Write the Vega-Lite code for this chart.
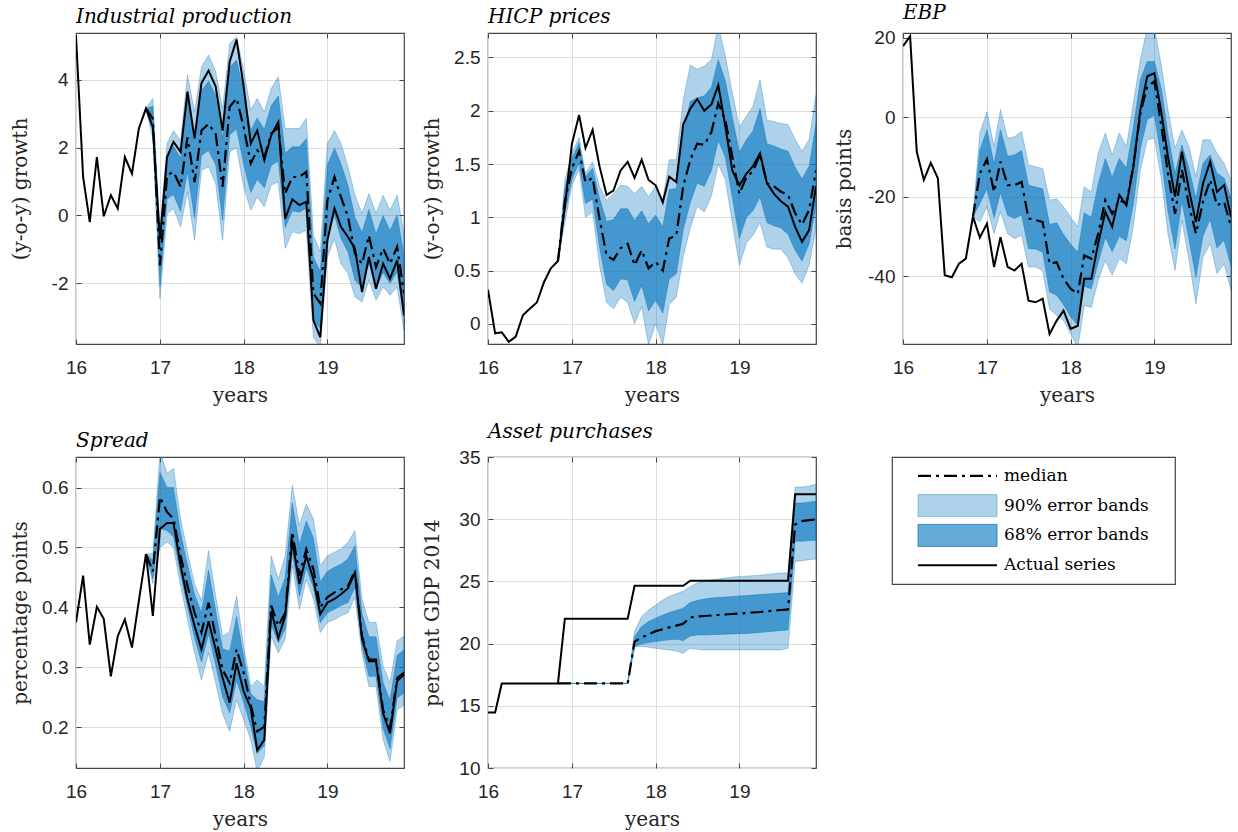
{
  "$schema": "https://vega.github.io/schema/vega-lite/v6.json",
  "background": "white",
  "padding": {"left": 9, "top": 2, "right": 5, "bottom": 5},
  "spacing": 15,
  "datasets": {
    "ip": [
      {"date": "2016-01", "actual": 5.3},
      {"date": "2016-02", "actual": 1.13},
      {"date": "2016-03", "actual": -0.2},
      {"date": "2016-04", "actual": 1.72},
      {"date": "2016-05", "actual": -0.03},
      {"date": "2016-06", "actual": 0.59},
      {"date": "2016-07", "actual": 0.2},
      {"date": "2016-08", "actual": 1.72},
      {"date": "2016-09", "actual": 1.23},
      {"date": "2016-10", "actual": 2.56},
      {"date": "2016-11", "actual": 3.15, "median": 3.15, "hi90": 3.15, "lo90": 3.15, "hi68": 3.15, "lo68": 3.15},
      {"date": "2016-12", "actual": 2.6, "median": 2.85, "hi90": 3.45, "lo90": 2.25, "hi68": 3.22, "lo68": 2.48},
      {"date": "2017-01", "actual": -0.7, "median": -1.48, "hi90": -0.54, "lo90": -2.46, "hi68": -0.9, "lo68": -2.09},
      {"date": "2017-02", "actual": 1.72, "median": 1.18, "hi90": 2.12, "lo90": 0.05, "hi68": 1.76, "lo68": 0.48},
      {"date": "2017-03", "actual": 2.17, "median": 1.28, "hi90": 2.5, "lo90": 0.2, "hi68": 2.04, "lo68": 0.61},
      {"date": "2017-04", "actual": 1.87, "median": 0.84, "hi90": 2.2, "lo90": -0.34, "hi68": 1.68, "lo68": 0.11},
      {"date": "2017-05", "actual": 3.65, "median": 2.3, "hi90": 4.14, "lo90": 0.69, "hi68": 3.44, "lo68": 1.3},
      {"date": "2017-06", "actual": 2.27, "median": 0.98, "hi90": 3.05, "lo90": -0.74, "hi68": 2.26, "lo68": -0.09},
      {"date": "2017-07", "actual": 3.9, "median": 2.5, "hi90": 4.38, "lo90": 1.33, "hi68": 3.67, "lo68": 1.77},
      {"date": "2017-08", "actual": 4.27, "median": 2.7, "hi90": 4.73, "lo90": 1.43, "hi68": 3.96, "lo68": 1.91},
      {"date": "2017-09", "actual": 3.8, "median": 2.4, "hi90": 4.24, "lo90": 0.94, "hi68": 3.54, "lo68": 1.49},
      {"date": "2017-10", "actual": 2.5, "median": 0.84, "hi90": 3.15, "lo90": -0.74, "hi68": 2.27, "lo68": -0.14},
      {"date": "2017-11", "actual": 4.53, "median": 3.2, "hi90": 5.07, "lo90": 1.87, "hi68": 4.36, "lo68": 2.38},
      {"date": "2017-12", "actual": 5.19, "median": 3.45, "hi90": 5.27, "lo90": 2.0, "hi68": 4.58, "lo68": 2.55},
      {"date": "2018-01", "actual": 3.8, "median": 2.6, "hi90": 4.29, "lo90": 0.84, "hi68": 3.65, "lo68": 1.51},
      {"date": "2018-02", "actual": 2.12, "median": 1.53, "hi90": 3.1, "lo90": 0.15, "hi68": 2.5, "lo68": 0.67},
      {"date": "2018-03", "actual": 2.5, "median": 1.92, "hi90": 3.45, "lo90": 0.54, "hi68": 2.87, "lo68": 1.06},
      {"date": "2018-04", "actual": 1.63, "median": 1.72, "hi90": 3.05, "lo90": 0.25, "hi68": 2.54, "lo68": 0.81},
      {"date": "2018-05", "actual": 2.36, "median": 2.41, "hi90": 3.74, "lo90": 0.89, "hi68": 3.23, "lo68": 1.47},
      {"date": "2018-06", "actual": 2.75, "median": 2.6, "hi90": 4.09, "lo90": 0.98, "hi68": 3.52, "lo68": 1.6},
      {"date": "2018-07", "actual": -0.1, "median": 0.64, "hi90": 2.56, "lo90": -0.98, "hi68": 1.83, "lo68": -0.36},
      {"date": "2018-08", "actual": 0.47, "median": 1.13, "hi90": 2.56, "lo90": -0.49, "hi68": 2.02, "lo68": 0.13},
      {"date": "2018-09", "actual": 0.3, "median": 1.13, "hi90": 2.56, "lo90": -0.54, "hi68": 2.02, "lo68": 0.09},
      {"date": "2018-10", "actual": 0.4, "median": 1.28, "hi90": 2.86, "lo90": -0.44, "hi68": 2.26, "lo68": 0.21},
      {"date": "2018-11", "actual": -3.1, "median": -2.31, "hi90": -0.59, "lo90": -3.6, "hi68": -1.24, "lo68": -3.11},
      {"date": "2018-12", "actual": -3.6, "median": -2.6, "hi90": -1.08, "lo90": -3.9, "hi68": -1.66, "lo68": -3.34},
      {"date": "2019-01", "actual": -0.74, "median": 0.44, "hi90": 2.12, "lo90": -1.23, "hi68": 1.48, "lo68": -0.6},
      {"date": "2019-02", "actual": 0.2, "median": 1.13, "hi90": 2.5, "lo90": -0.69, "hi68": 1.98, "lo68": 0.0},
      {"date": "2019-03", "actual": -0.34, "median": 0.54, "hi90": 2.12, "lo90": -1.43, "hi68": 1.52, "lo68": -0.68},
      {"date": "2019-04", "actual": -0.64, "median": -0.05, "hi90": 1.43, "lo90": -1.72, "hi68": 0.87, "lo68": -1.09},
      {"date": "2019-05", "actual": -0.98, "median": -1.13, "hi90": 0.6, "lo90": -2.41, "hi68": -0.06, "lo68": -1.92},
      {"date": "2019-06", "actual": -2.27, "median": -1.43, "hi90": 0.05, "lo90": -2.56, "hi68": -0.51, "lo68": -2.13},
      {"date": "2019-07", "actual": -1.23, "median": -0.6, "hi90": 0.64, "lo90": -1.92, "hi68": 0.17, "lo68": -1.42},
      {"date": "2019-08", "actual": -2.17, "median": -1.53, "hi90": 0.05, "lo90": -2.51, "hi68": -0.55, "lo68": -2.14},
      {"date": "2019-09", "actual": -1.43, "median": -0.98, "hi90": 0.59, "lo90": -2.12, "hi68": -0.01, "lo68": -1.69},
      {"date": "2019-10", "actual": -1.87, "median": -1.43, "hi90": 0.15, "lo90": -2.36, "hi68": -0.45, "lo68": -2.01},
      {"date": "2019-11", "actual": -1.33, "median": -0.93, "hi90": 0.59, "lo90": -2.12, "hi68": 0.01, "lo68": -1.67},
      {"date": "2019-12", "actual": -2.96, "median": -2.3, "hi90": -0.54, "lo90": -3.4, "hi68": -1.21, "lo68": -2.98}
    ],
    "hicp": [
      {"date": "2016-01", "actual": 0.32},
      {"date": "2016-02", "actual": -0.09},
      {"date": "2016-03", "actual": -0.08},
      {"date": "2016-04", "actual": -0.17},
      {"date": "2016-05", "actual": -0.12},
      {"date": "2016-06", "actual": 0.08},
      {"date": "2016-07", "actual": 0.14},
      {"date": "2016-08", "actual": 0.2},
      {"date": "2016-09", "actual": 0.39},
      {"date": "2016-10", "actual": 0.52},
      {"date": "2016-11", "actual": 0.59, "median": 0.59, "hi90": 0.59, "lo90": 0.59, "hi68": 0.59, "lo68": 0.59},
      {"date": "2016-12", "actual": 1.1, "median": 1.15, "hi90": 1.35, "lo90": 0.95, "hi68": 1.27, "lo68": 1.03},
      {"date": "2017-01", "actual": 1.69, "median": 1.46, "hi90": 1.6, "lo90": 1.3, "hi68": 1.55, "lo68": 1.36},
      {"date": "2017-02", "actual": 1.96, "median": 1.62, "hi90": 1.75, "lo90": 1.45, "hi68": 1.7, "lo68": 1.51},
      {"date": "2017-03", "actual": 1.65, "median": 1.33, "hi90": 1.41, "lo90": 1.0, "hi68": 1.38, "lo68": 1.13},
      {"date": "2017-04", "actual": 1.82, "median": 1.37, "hi90": 1.52, "lo90": 1.05, "hi68": 1.46, "lo68": 1.17},
      {"date": "2017-05", "actual": 1.48, "median": 0.99, "hi90": 1.29, "lo90": 0.55, "hi68": 1.18, "lo68": 0.72},
      {"date": "2017-06", "actual": 1.21, "median": 0.64, "hi90": 1.16, "lo90": 0.2, "hi68": 0.96, "lo68": 0.37},
      {"date": "2017-07", "actual": 1.25, "median": 0.6, "hi90": 1.22, "lo90": 0.14, "hi68": 0.98, "lo68": 0.31},
      {"date": "2017-08", "actual": 1.44, "median": 0.71, "hi90": 1.3, "lo90": 0.25, "hi68": 1.08, "lo68": 0.42},
      {"date": "2017-09", "actual": 1.52, "median": 0.75, "hi90": 1.29, "lo90": 0.2, "hi68": 1.08, "lo68": 0.41},
      {"date": "2017-10", "actual": 1.37, "median": 0.55, "hi90": 1.22, "lo90": 0.0, "hi68": 0.97, "lo68": 0.21},
      {"date": "2017-11", "actual": 1.54, "median": 0.69, "hi90": 1.29, "lo90": 0.16, "hi68": 1.06, "lo68": 0.36},
      {"date": "2017-12", "actual": 1.35, "median": 0.52, "hi90": 1.19, "lo90": -0.2, "hi68": 0.94, "lo68": 0.12},
      {"date": "2018-01", "actual": 1.3, "median": 0.58, "hi90": 1.29, "lo90": 0.0, "hi68": 1.02, "lo68": 0.22},
      {"date": "2018-02", "actual": 1.14, "median": 0.5, "hi90": 1.16, "lo90": -0.2, "hi68": 0.91, "lo68": 0.1},
      {"date": "2018-03", "actual": 1.38, "median": 0.8, "hi90": 1.54, "lo90": 0.18, "hi68": 1.26, "lo68": 0.42},
      {"date": "2018-04", "actual": 1.33, "median": 0.83, "hi90": 1.54, "lo90": 0.25, "hi68": 1.27, "lo68": 0.47},
      {"date": "2018-05", "actual": 1.87, "median": 1.29, "hi90": 2.1, "lo90": 0.63, "hi68": 1.79, "lo68": 0.88},
      {"date": "2018-06", "actual": 2.02, "median": 1.54, "hi90": 2.43, "lo90": 0.9, "hi68": 2.09, "lo68": 1.14},
      {"date": "2018-07", "actual": 2.11, "median": 1.69, "hi90": 2.39, "lo90": 1.1, "hi68": 2.12, "lo68": 1.32},
      {"date": "2018-08", "actual": 2.0, "median": 1.68, "hi90": 2.42, "lo90": 1.05, "hi68": 2.14, "lo68": 1.29},
      {"date": "2018-09", "actual": 2.06, "median": 1.8, "hi90": 2.48, "lo90": 1.2, "hi68": 2.22, "lo68": 1.44},
      {"date": "2018-10", "actual": 2.24, "median": 2.07, "hi90": 2.8, "lo90": 1.5, "hi68": 2.48, "lo68": 1.72},
      {"date": "2018-11", "actual": 1.85, "median": 1.91, "hi90": 2.51, "lo90": 1.35, "hi68": 2.28, "lo68": 1.56},
      {"date": "2018-12", "actual": 1.44, "median": 1.57, "hi90": 2.17, "lo90": 0.95, "hi68": 1.94, "lo68": 1.19},
      {"date": "2019-01", "actual": 1.3, "median": 1.22, "hi90": 1.85, "lo90": 0.55, "hi68": 1.61, "lo68": 0.8},
      {"date": "2019-02", "actual": 1.41, "median": 1.38, "hi90": 1.95, "lo90": 0.76, "hi68": 1.73, "lo68": 1.0},
      {"date": "2019-03", "actual": 1.48, "median": 1.43, "hi90": 2.04, "lo90": 0.83, "hi68": 1.81, "lo68": 1.06},
      {"date": "2019-04", "actual": 1.6, "median": 1.59, "hi90": 2.29, "lo90": 0.95, "hi68": 2.02, "lo68": 1.19},
      {"date": "2019-05", "actual": 1.32, "median": 1.32, "hi90": 1.91, "lo90": 0.72, "hi68": 1.69, "lo68": 0.95},
      {"date": "2019-06", "actual": 1.22, "median": 1.29, "hi90": 1.9, "lo90": 0.7, "hi68": 1.67, "lo68": 0.92},
      {"date": "2019-07", "actual": 1.15, "median": 1.24, "hi90": 1.88, "lo90": 0.7, "hi68": 1.64, "lo68": 0.9},
      {"date": "2019-08", "actual": 1.1, "median": 1.21, "hi90": 1.87, "lo90": 0.62, "hi68": 1.62, "lo68": 0.84},
      {"date": "2019-09", "actual": 0.91, "median": 1.04, "hi90": 1.73, "lo90": 0.47, "hi68": 1.47, "lo68": 0.69},
      {"date": "2019-10", "actual": 0.77, "median": 0.93, "hi90": 1.62, "lo90": 0.38, "hi68": 1.36, "lo68": 0.59},
      {"date": "2019-11", "actual": 0.88, "median": 1.07, "hi90": 1.73, "lo90": 0.55, "hi68": 1.48, "lo68": 0.75},
      {"date": "2019-12", "actual": 1.29, "median": 1.44, "hi90": 2.15, "lo90": 0.9, "hi68": 1.88, "lo68": 1.11}
    ],
    "ebp": [
      {"date": "2016-01", "actual": 17.9},
      {"date": "2016-02", "actual": 20.4},
      {"date": "2016-03", "actual": -8.7},
      {"date": "2016-04", "actual": -15.8},
      {"date": "2016-05", "actual": -11.5},
      {"date": "2016-06", "actual": -15.4},
      {"date": "2016-07", "actual": -39.8},
      {"date": "2016-08", "actual": -40.3},
      {"date": "2016-09", "actual": -36.9},
      {"date": "2016-10", "actual": -35.6},
      {"date": "2016-11", "actual": -25.0, "median": -25.0, "hi90": -25.0, "lo90": -25.0, "hi68": -25.0, "lo68": -25.0},
      {"date": "2016-12", "actual": -30.3, "median": -14.2, "hi90": -4.0, "lo90": -26.4, "hi68": -8.3, "lo68": -21.8},
      {"date": "2017-01", "actual": -26.8, "median": -10.6, "hi90": 1.4, "lo90": -22.6, "hi68": -3.2, "lo68": -18.0},
      {"date": "2017-02", "actual": -37.7, "median": -18.8, "hi90": -7.4, "lo90": -29.3, "hi68": -11.7, "lo68": -25.3},
      {"date": "2017-03", "actual": -30.2, "median": -11.2, "hi90": 1.9, "lo90": -23.8, "hi68": -3.1, "lo68": -19.0},
      {"date": "2017-04", "actual": -37.7, "median": -17.1, "hi90": -5.3, "lo90": -29.3, "hi68": -9.8, "lo68": -24.7},
      {"date": "2017-05", "actual": -38.6, "median": -17.1, "hi90": -4.9, "lo90": -30.6, "hi68": -9.5, "lo68": -25.5},
      {"date": "2017-06", "actual": -36.9, "median": -16.3, "hi90": -3.6, "lo90": -29.7, "hi68": -8.4, "lo68": -24.6},
      {"date": "2017-07", "actual": -46.2, "median": -25.5, "hi90": -12.0, "lo90": -37.7, "hi68": -17.1, "lo68": -33.1},
      {"date": "2017-08", "actual": -46.6, "median": -25.9, "hi90": -12.5, "lo90": -37.7, "hi68": -17.6, "lo68": -33.2},
      {"date": "2017-09", "actual": -45.7, "median": -26.4, "hi90": -12.9, "lo90": -38.6, "hi68": -18.0, "lo68": -34.0},
      {"date": "2017-10", "actual": -54.6, "median": -36.9, "hi90": -20.9, "lo90": -48.3, "hi68": -27.0, "lo68": -44.0},
      {"date": "2017-11", "actual": -51.2, "median": -36.5, "hi90": -20.5, "lo90": -49.9, "hi68": -26.6, "lo68": -44.8},
      {"date": "2017-12", "actual": -48.7, "median": -40.7, "hi90": -22.6, "lo90": -51.2, "hi68": -29.5, "lo68": -47.2},
      {"date": "2018-01", "actual": -53.3, "median": -43.2, "hi90": -25.1, "lo90": -54.6, "hi68": -32.0, "lo68": -50.3},
      {"date": "2018-02", "actual": -52.5, "median": -44.5, "hi90": -27.6, "lo90": -58.0, "hi68": -34.0, "lo68": -52.3},
      {"date": "2018-03", "actual": -40.7, "median": -34.8, "hi90": -17.5, "lo90": -47.4, "hi68": -24.1, "lo68": -42.6},
      {"date": "2018-04", "actual": -40.7, "median": -35.6, "hi90": -18.8, "lo90": -47.9, "hi68": -25.2, "lo68": -43.2},
      {"date": "2018-05", "actual": -31.8, "median": -29.3, "hi90": -9.1, "lo90": -41.1, "hi68": -16.8, "lo68": -36.6},
      {"date": "2018-06", "actual": -23.8, "median": -20.9, "hi90": -4.0, "lo90": -36.1, "hi68": -10.4, "lo68": -30.3},
      {"date": "2018-07", "actual": -27.6, "median": -24.3, "hi90": -9.5, "lo90": -39.8, "hi68": -15.1, "lo68": -33.9},
      {"date": "2018-08", "actual": -19.6, "median": -20.9, "hi90": -4.0, "lo90": -35.6, "hi68": -10.4, "lo68": -30.0},
      {"date": "2018-09", "actual": -22.2, "median": -21.7, "hi90": -7.4, "lo90": -36.9, "hi68": -12.8, "lo68": -31.1},
      {"date": "2018-10", "actual": -12.5, "median": -12.5, "hi90": 3.5, "lo90": -27.6, "hi68": -2.6, "lo68": -21.9},
      {"date": "2018-11", "actual": 1.9, "median": 1.0, "hi90": 14.5, "lo90": -13.3, "hi68": 9.4, "lo68": -7.9},
      {"date": "2018-12", "actual": 10.3, "median": 7.8, "hi90": 22.5, "lo90": -5.7, "hi68": 14.0, "lo68": -0.6},
      {"date": "2019-01", "actual": 11.1, "median": 9.0, "hi90": 22.5, "lo90": -5.3, "hi68": 14.0, "lo68": 0.5},
      {"date": "2019-02", "actual": 1.0, "median": -2.4, "hi90": 12.8, "lo90": -15.8, "hi68": 7.0, "lo68": -10.7},
      {"date": "2019-03", "actual": -9.9, "median": -14.2, "hi90": 1.9, "lo90": -29.3, "hi68": -4.2, "lo68": -23.6},
      {"date": "2019-04", "actual": -20.0, "median": -24.3, "hi90": -7.8, "lo90": -38.6, "hi68": -14.1, "lo68": -33.2},
      {"date": "2019-05", "actual": -8.7, "median": -13.3, "hi90": -3.2, "lo90": -25.9, "hi68": -7.0, "lo68": -21.1},
      {"date": "2019-06", "actual": -18.4, "median": -22.2, "hi90": -7.4, "lo90": -36.1, "hi68": -13.0, "lo68": -30.8},
      {"date": "2019-07", "actual": -26.4, "median": -29.3, "hi90": -15.0, "lo90": -47.0, "hi68": -20.4, "lo68": -40.3},
      {"date": "2019-08", "actual": -16.7, "median": -21.3, "hi90": -5.7, "lo90": -35.2, "hi68": -11.6, "lo68": -29.9},
      {"date": "2019-09", "actual": -11.2, "median": -15.8, "hi90": -5.7, "lo90": -31.8, "hi68": -9.5, "lo68": -25.7},
      {"date": "2019-10", "actual": -18.8, "median": -22.2, "hi90": -9.1, "lo90": -39.4, "hi68": -14.1, "lo68": -32.9},
      {"date": "2019-11", "actual": -17.1, "median": -21.3, "hi90": -11.6, "lo90": -36.9, "hi68": -15.3, "lo68": -31.0},
      {"date": "2019-12", "actual": -25.1, "median": -27.6, "hi90": -15.8, "lo90": -43.6, "hi68": -20.3, "lo68": -37.5}
    ],
    "spread": [
      {"date": "2016-01", "actual": 0.375},
      {"date": "2016-02", "actual": 0.453},
      {"date": "2016-03", "actual": 0.338},
      {"date": "2016-04", "actual": 0.401},
      {"date": "2016-05", "actual": 0.381},
      {"date": "2016-06", "actual": 0.285},
      {"date": "2016-07", "actual": 0.352},
      {"date": "2016-08", "actual": 0.38},
      {"date": "2016-09", "actual": 0.333},
      {"date": "2016-10", "actual": 0.411},
      {"date": "2016-11", "actual": 0.489, "median": 0.489, "hi90": 0.489, "lo90": 0.489, "hi68": 0.489, "lo68": 0.489},
      {"date": "2016-12", "actual": 0.386, "median": 0.46, "hi90": 0.49, "lo90": 0.44, "hi68": 0.479, "lo68": 0.448},
      {"date": "2017-01", "actual": 0.531, "median": 0.584, "hi90": 0.66, "lo90": 0.5, "hi68": 0.625, "lo68": 0.532},
      {"date": "2017-02", "actual": 0.541, "median": 0.559, "hi90": 0.624, "lo90": 0.509, "hi68": 0.6, "lo68": 0.528},
      {"date": "2017-03", "actual": 0.541, "median": 0.548, "hi90": 0.632, "lo90": 0.5, "hi68": 0.6, "lo68": 0.518},
      {"date": "2017-04", "actual": 0.47, "median": 0.486, "hi90": 0.548, "lo90": 0.436, "hi68": 0.524, "lo68": 0.455},
      {"date": "2017-05", "actual": 0.414, "median": 0.436, "hi90": 0.492, "lo90": 0.38, "hi68": 0.471, "lo68": 0.401},
      {"date": "2017-06", "actual": 0.369, "median": 0.391, "hi90": 0.439, "lo90": 0.324, "hi68": 0.421, "lo68": 0.349},
      {"date": "2017-07", "actual": 0.33, "median": 0.358, "hi90": 0.411, "lo90": 0.279, "hi68": 0.391, "lo68": 0.309},
      {"date": "2017-08", "actual": 0.377, "median": 0.408, "hi90": 0.495, "lo90": 0.324, "hi68": 0.462, "lo68": 0.356},
      {"date": "2017-09", "actual": 0.33, "median": 0.352, "hi90": 0.419, "lo90": 0.274, "hi68": 0.394, "lo68": 0.304},
      {"date": "2017-10", "actual": 0.282, "median": 0.296, "hi90": 0.352, "lo90": 0.223, "hi68": 0.331, "lo68": 0.251},
      {"date": "2017-11", "actual": 0.241, "median": 0.274, "hi90": 0.36, "lo90": 0.193, "hi68": 0.327, "lo68": 0.224},
      {"date": "2017-12", "actual": 0.307, "median": 0.33, "hi90": 0.419, "lo90": 0.246, "hi68": 0.385, "lo68": 0.278},
      {"date": "2018-01", "actual": 0.26, "median": 0.291, "hi90": 0.335, "lo90": 0.212, "hi68": 0.318, "lo68": 0.242},
      {"date": "2018-02", "actual": 0.232, "median": 0.237, "hi90": 0.268, "lo90": 0.179, "hi68": 0.256, "lo68": 0.201},
      {"date": "2018-03", "actual": 0.162, "median": 0.193, "hi90": 0.279, "lo90": 0.125, "hi68": 0.246, "lo68": 0.156},
      {"date": "2018-04", "actual": 0.179, "median": 0.201, "hi90": 0.268, "lo90": 0.151, "hi68": 0.243, "lo68": 0.17},
      {"date": "2018-05", "actual": 0.394, "median": 0.403, "hi90": 0.486, "lo90": 0.352, "hi68": 0.454, "lo68": 0.371},
      {"date": "2018-06", "actual": 0.349, "median": 0.369, "hi90": 0.447, "lo90": 0.324, "hi68": 0.417, "lo68": 0.341},
      {"date": "2018-07", "actual": 0.386, "median": 0.391, "hi90": 0.486, "lo90": 0.347, "hi68": 0.45, "lo68": 0.364},
      {"date": "2018-08", "actual": 0.512, "median": 0.526, "hi90": 0.604, "lo90": 0.47, "hi68": 0.574, "lo68": 0.491},
      {"date": "2018-09", "actual": 0.439, "median": 0.453, "hi90": 0.537, "lo90": 0.397, "hi68": 0.505, "lo68": 0.418},
      {"date": "2018-10", "actual": 0.486, "median": 0.497, "hi90": 0.573, "lo90": 0.447, "hi68": 0.544, "lo68": 0.466},
      {"date": "2018-11", "actual": 0.447, "median": 0.464, "hi90": 0.548, "lo90": 0.414, "hi68": 0.516, "lo68": 0.433},
      {"date": "2018-12", "actual": 0.389, "median": 0.4, "hi90": 0.47, "lo90": 0.358, "hi68": 0.443, "lo68": 0.374},
      {"date": "2019-01", "actual": 0.408, "median": 0.417, "hi90": 0.486, "lo90": 0.375, "hi68": 0.46, "lo68": 0.391},
      {"date": "2019-02", "actual": 0.414, "median": 0.425, "hi90": 0.492, "lo90": 0.38, "hi68": 0.467, "lo68": 0.397},
      {"date": "2019-03", "actual": 0.422, "median": 0.43, "hi90": 0.498, "lo90": 0.386, "hi68": 0.472, "lo68": 0.403},
      {"date": "2019-04", "actual": 0.432, "median": 0.436, "hi90": 0.509, "lo90": 0.391, "hi68": 0.481, "lo68": 0.408},
      {"date": "2019-05", "actual": 0.458, "median": 0.461, "hi90": 0.528, "lo90": 0.417, "hi68": 0.503, "lo68": 0.434},
      {"date": "2019-06", "actual": 0.347, "median": 0.352, "hi90": 0.414, "lo90": 0.324, "hi68": 0.39, "lo68": 0.335},
      {"date": "2019-07", "actual": 0.31, "median": 0.313, "hi90": 0.375, "lo90": 0.268, "hi68": 0.351, "lo68": 0.285},
      {"date": "2019-08", "actual": 0.31, "median": 0.313, "hi90": 0.375, "lo90": 0.268, "hi68": 0.351, "lo68": 0.285},
      {"date": "2019-09", "actual": 0.223, "median": 0.229, "hi90": 0.302, "lo90": 0.179, "hi68": 0.274, "lo68": 0.198},
      {"date": "2019-10", "actual": 0.19, "median": 0.198, "hi90": 0.274, "lo90": 0.143, "hi68": 0.245, "lo68": 0.164},
      {"date": "2019-11", "actual": 0.277, "median": 0.282, "hi90": 0.344, "lo90": 0.229, "hi68": 0.32, "lo68": 0.249},
      {"date": "2019-12", "actual": 0.288, "median": 0.291, "hi90": 0.352, "lo90": 0.237, "hi68": 0.329, "lo68": 0.257}
    ],
    "ap": [
      {"date": "2016-01", "actual": 14.46},
      {"date": "2016-02", "actual": 14.46},
      {"date": "2016-03", "actual": 16.8},
      {"date": "2016-04", "actual": 16.8},
      {"date": "2016-05", "actual": 16.8},
      {"date": "2016-06", "actual": 16.8},
      {"date": "2016-07", "actual": 16.8},
      {"date": "2016-08", "actual": 16.8},
      {"date": "2016-09", "actual": 16.8},
      {"date": "2016-10", "actual": 16.8},
      {"date": "2016-11", "actual": 16.8, "median": 16.8, "hi90": 16.8, "lo90": 16.8, "hi68": 16.8, "lo68": 16.8},
      {"date": "2016-12", "actual": 22.0, "median": 16.8, "hi90": 16.8, "lo90": 16.8, "hi68": 16.8, "lo68": 16.8},
      {"date": "2017-01", "actual": 22.0, "median": 16.8, "hi90": 16.8, "lo90": 16.8, "hi68": 16.8, "lo68": 16.8},
      {"date": "2017-02", "actual": 22.0, "median": 16.8, "hi90": 16.8, "lo90": 16.8, "hi68": 16.8, "lo68": 16.8},
      {"date": "2017-03", "actual": 22.0, "median": 16.8, "hi90": 16.8, "lo90": 16.8, "hi68": 16.8, "lo68": 16.8},
      {"date": "2017-04", "actual": 22.0, "median": 16.8, "hi90": 16.8, "lo90": 16.8, "hi68": 16.8, "lo68": 16.8},
      {"date": "2017-05", "actual": 22.0, "median": 16.8, "hi90": 16.8, "lo90": 16.8, "hi68": 16.8, "lo68": 16.8},
      {"date": "2017-06", "actual": 22.0, "median": 16.8, "hi90": 16.8, "lo90": 16.8, "hi68": 16.8, "lo68": 16.8},
      {"date": "2017-07", "actual": 22.0, "median": 16.8, "hi90": 16.8, "lo90": 16.8, "hi68": 16.8, "lo68": 16.8},
      {"date": "2017-08", "actual": 22.0, "median": 16.8, "hi90": 16.8, "lo90": 16.8, "hi68": 16.8, "lo68": 16.8},
      {"date": "2017-09", "actual": 22.0, "median": 16.8, "hi90": 16.8, "lo90": 16.8, "hi68": 16.8, "lo68": 16.8},
      {"date": "2017-10", "actual": 24.65, "median": 20.16, "hi90": 20.97, "lo90": 19.76, "hi68": 20.56, "lo68": 19.76},
      {"date": "2017-11", "actual": 24.65, "median": 20.5, "hi90": 22.18, "lo90": 19.76, "hi68": 21.37, "lo68": 19.97},
      {"date": "2017-12", "actual": 24.65, "median": 20.75, "hi90": 22.7, "lo90": 19.7, "hi68": 21.77, "lo68": 20.08},
      {"date": "2018-01", "actual": 24.65, "median": 21.0, "hi90": 23.1, "lo90": 19.62, "hi68": 22.04, "lo68": 20.16},
      {"date": "2018-02", "actual": 24.65, "median": 21.15, "hi90": 23.5, "lo90": 19.54, "hi68": 22.3, "lo68": 20.24},
      {"date": "2018-03", "actual": 24.65, "median": 21.3, "hi90": 23.8, "lo90": 19.49, "hi68": 22.5, "lo68": 20.3},
      {"date": "2018-04", "actual": 24.65, "median": 21.45, "hi90": 24.0, "lo90": 19.4, "hi68": 22.66, "lo68": 20.35},
      {"date": "2018-05", "actual": 24.65, "median": 21.6, "hi90": 24.2, "lo90": 19.22, "hi68": 22.85, "lo68": 20.24},
      {"date": "2018-06", "actual": 25.05, "median": 22.1, "hi90": 24.6, "lo90": 19.62, "hi68": 23.3, "lo68": 20.62},
      {"date": "2018-07", "actual": 25.05, "median": 22.18, "hi90": 24.87, "lo90": 19.54, "hi68": 23.47, "lo68": 20.7},
      {"date": "2018-08", "actual": 25.05, "median": 22.22, "hi90": 25.0, "lo90": 19.49, "hi68": 23.58, "lo68": 20.7},
      {"date": "2018-09", "actual": 25.05, "median": 22.26, "hi90": 25.13, "lo90": 19.49, "hi68": 23.66, "lo68": 20.72},
      {"date": "2018-10", "actual": 25.05, "median": 22.3, "hi90": 25.19, "lo90": 19.49, "hi68": 23.7, "lo68": 20.74},
      {"date": "2018-11", "actual": 25.05, "median": 22.34, "hi90": 25.27, "lo90": 19.49, "hi68": 23.74, "lo68": 20.76},
      {"date": "2018-12", "actual": 25.05, "median": 22.38, "hi90": 25.35, "lo90": 19.49, "hi68": 23.78, "lo68": 20.78},
      {"date": "2019-01", "actual": 25.05, "median": 22.42, "hi90": 25.4, "lo90": 19.49, "hi68": 23.82, "lo68": 20.8},
      {"date": "2019-02", "actual": 25.05, "median": 22.46, "hi90": 25.42, "lo90": 19.49, "hi68": 23.86, "lo68": 20.82},
      {"date": "2019-03", "actual": 25.05, "median": 22.5, "hi90": 25.46, "lo90": 19.49, "hi68": 23.9, "lo68": 20.85},
      {"date": "2019-04", "actual": 25.05, "median": 22.54, "hi90": 25.5, "lo90": 19.49, "hi68": 23.94, "lo68": 20.9},
      {"date": "2019-05", "actual": 25.05, "median": 22.6, "hi90": 25.56, "lo90": 19.49, "hi68": 23.98, "lo68": 20.95},
      {"date": "2019-06", "actual": 25.05, "median": 22.65, "hi90": 25.62, "lo90": 19.49, "hi68": 24.02, "lo68": 21.0},
      {"date": "2019-07", "actual": 25.05, "median": 22.7, "hi90": 25.67, "lo90": 19.49, "hi68": 24.06, "lo68": 21.05},
      {"date": "2019-08", "actual": 25.05, "median": 22.75, "hi90": 25.67, "lo90": 19.62, "hi68": 24.1, "lo68": 21.1},
      {"date": "2019-09", "actual": 32.0, "median": 29.57, "hi90": 32.58, "lo90": 26.6, "hi68": 31.3, "lo68": 28.23},
      {"date": "2019-10", "actual": 32.0, "median": 29.84, "hi90": 32.58, "lo90": 26.67, "hi68": 31.3, "lo68": 28.23},
      {"date": "2019-11", "actual": 32.0, "median": 29.92, "hi90": 32.66, "lo90": 26.75, "hi68": 31.37, "lo68": 28.28},
      {"date": "2019-12", "actual": 32.0, "median": 29.97, "hi90": 32.8, "lo90": 26.8, "hi68": 31.45, "lo68": 28.3}
    ]
  },
  "vconcat": [
    {
      "spacing": 15,
      "hconcat": [
        {
          "title": "Industrial production",
          "width": 328, "height": 311,
          "data": {"name": "ip"},
          "layer": [
            {"mark": {"type": "area", "fill": "#0072BD", "fillOpacity": 0.32, "stroke": "#0072BD", "strokeOpacity": 0.3, "strokeWidth": 1, "clip": true},
             "encoding": {
               "x": {"field": "date", "type": "temporal", "scale": {"type": "utc", "domain": [{"year": 2016, "month": 1, "date": 1, "utc": true}, {"year": 2019, "month": 12, "date": 1, "utc": true}]},
                     "axis": {"title": "years", "values": [{"year": 2016, "utc": true}, {"year": 2017, "utc": true}, {"year": 2018, "utc": true}, {"year": 2019, "utc": true}], "labelExpr": "utcFormat(datum.value, '%y')"}},
               "y": {"field": "hi90", "type": "quantitative", "scale": {"domain": [-3.8, 5.38], "nice": false, "zero": false},
                     "axis": {"title": "(y-o-y) growth", "values": [-2, 0, 2, 4], "format": "d", "labelExpr": "replace(datum.label, '\u2212', '-')"}},
               "y2": {"field": "lo90"}}},
            {"mark": {"type": "area", "fill": "#0072BD", "fillOpacity": 0.6, "stroke": "#0072BD", "strokeOpacity": 0.4, "strokeWidth": 1, "clip": true},
             "encoding": {"x": {"field": "date", "type": "temporal", "axis": null}, "y": {"field": "hi68", "type": "quantitative", "axis": null}, "y2": {"field": "lo68"}}},
            {"mark": {"type": "line", "color": "black", "strokeWidth": 2.2, "strokeDash": [13, 5, 3, 5], "clip": true},
             "encoding": {"x": {"field": "date", "type": "temporal", "axis": null}, "y": {"field": "median", "type": "quantitative", "axis": null}}},
            {"mark": {"type": "line", "color": "black", "strokeWidth": 2, "clip": true},
             "encoding": {
               "x": {"field": "date", "type": "temporal", "axis": {"orient": "top", "title": null, "values": [{"year": 2016, "utc": true}, {"year": 2017, "utc": true}, {"year": 2018, "utc": true}, {"year": 2019, "utc": true}]}},
               "y": {"field": "actual", "type": "quantitative", "axis": {"orient": "right", "title": null, "values": [-2, 0, 2, 4]}}}}
          ],
          "resolve": {"axis": {"x": "independent", "y": "independent"}}
        },
        {
          "title": "HICP prices",
          "width": 328, "height": 311,
          "data": {"name": "hicp"},
          "layer": [
            {"mark": {"type": "area", "fill": "#0072BD", "fillOpacity": 0.32, "stroke": "#0072BD", "strokeOpacity": 0.3, "strokeWidth": 1, "clip": true},
             "encoding": {
               "x": {"field": "date", "type": "temporal", "scale": {"type": "utc", "domain": [{"year": 2016, "month": 1, "date": 1, "utc": true}, {"year": 2019, "month": 12, "date": 1, "utc": true}]},
                     "axis": {"title": "years", "values": [{"year": 2016, "utc": true}, {"year": 2017, "utc": true}, {"year": 2018, "utc": true}, {"year": 2019, "utc": true}], "labelExpr": "utcFormat(datum.value, '%y')"}},
               "y": {"field": "hi90", "type": "quantitative", "scale": {"domain": [-0.19, 2.73], "nice": false, "zero": false},
                     "axis": {"title": "(y-o-y) growth", "values": [0, 0.5, 1, 1.5, 2, 2.5], "format": "~g"}},
               "y2": {"field": "lo90"}}},
            {"mark": {"type": "area", "fill": "#0072BD", "fillOpacity": 0.6, "stroke": "#0072BD", "strokeOpacity": 0.4, "strokeWidth": 1, "clip": true},
             "encoding": {"x": {"field": "date", "type": "temporal", "axis": null}, "y": {"field": "hi68", "type": "quantitative", "axis": null}, "y2": {"field": "lo68"}}},
            {"mark": {"type": "line", "color": "black", "strokeWidth": 2.2, "strokeDash": [13, 5, 3, 5], "clip": true},
             "encoding": {"x": {"field": "date", "type": "temporal", "axis": null}, "y": {"field": "median", "type": "quantitative", "axis": null}}},
            {"mark": {"type": "line", "color": "black", "strokeWidth": 2, "clip": true},
             "encoding": {
               "x": {"field": "date", "type": "temporal", "axis": {"orient": "top", "title": null, "values": [{"year": 2016, "utc": true}, {"year": 2017, "utc": true}, {"year": 2018, "utc": true}, {"year": 2019, "utc": true}]}},
               "y": {"field": "actual", "type": "quantitative", "axis": {"orient": "right", "title": null, "values": [0, 0.5, 1, 1.5, 2, 2.5]}}}}
          ],
          "resolve": {"axis": {"x": "independent", "y": "independent"}}
        },
        {
          "title": "EBP",
          "width": 328, "height": 311,
          "data": {"name": "ebp"},
          "layer": [
            {"mark": {"type": "area", "fill": "#0072BD", "fillOpacity": 0.32, "stroke": "#0072BD", "strokeOpacity": 0.3, "strokeWidth": 1, "clip": true},
             "encoding": {
               "x": {"field": "date", "type": "temporal", "scale": {"type": "utc", "domain": [{"year": 2016, "month": 1, "date": 1, "utc": true}, {"year": 2019, "month": 12, "date": 1, "utc": true}]},
                     "axis": {"title": "years", "values": [{"year": 2016, "utc": true}, {"year": 2017, "utc": true}, {"year": 2018, "utc": true}, {"year": 2019, "utc": true}], "labelExpr": "utcFormat(datum.value, '%y')"}},
               "y": {"field": "hi90", "type": "quantitative", "scale": {"domain": [-57.1, 21.2], "nice": false, "zero": false},
                     "axis": {"title": "basis points", "titlePadding": 13, "values": [-40, -20, 0, 20], "format": "d", "labelExpr": "replace(datum.label, '\u2212', '-')"}},
               "y2": {"field": "lo90"}}},
            {"mark": {"type": "area", "fill": "#0072BD", "fillOpacity": 0.6, "stroke": "#0072BD", "strokeOpacity": 0.4, "strokeWidth": 1, "clip": true},
             "encoding": {"x": {"field": "date", "type": "temporal", "axis": null}, "y": {"field": "hi68", "type": "quantitative", "axis": null}, "y2": {"field": "lo68"}}},
            {"mark": {"type": "line", "color": "black", "strokeWidth": 2.2, "strokeDash": [13, 5, 3, 5], "clip": true},
             "encoding": {"x": {"field": "date", "type": "temporal", "axis": null}, "y": {"field": "median", "type": "quantitative", "axis": null}}},
            {"mark": {"type": "line", "color": "black", "strokeWidth": 2, "clip": true},
             "encoding": {
               "x": {"field": "date", "type": "temporal", "axis": {"orient": "top", "title": null, "values": [{"year": 2016, "utc": true}, {"year": 2017, "utc": true}, {"year": 2018, "utc": true}, {"year": 2019, "utc": true}]}},
               "y": {"field": "actual", "type": "quantitative", "axis": {"orient": "right", "title": null, "values": [-40, -20, 0, 20]}}}}
          ],
          "resolve": {"axis": {"x": "independent", "y": "independent"}}
        }
      ]
    },
    {
      "spacing": 15,
      "hconcat": [
        {
          "title": "Spread",
          "width": 328, "height": 311,
          "data": {"name": "spread"},
          "layer": [
            {"mark": {"type": "area", "fill": "#0072BD", "fillOpacity": 0.32, "stroke": "#0072BD", "strokeOpacity": 0.3, "strokeWidth": 1, "clip": true},
             "encoding": {
               "x": {"field": "date", "type": "temporal", "scale": {"type": "utc", "domain": [{"year": 2016, "month": 1, "date": 1, "utc": true}, {"year": 2019, "month": 12, "date": 1, "utc": true}]},
                     "axis": {"title": "years", "values": [{"year": 2016, "utc": true}, {"year": 2017, "utc": true}, {"year": 2018, "utc": true}, {"year": 2019, "utc": true}], "labelExpr": "utcFormat(datum.value, '%y')"}},
               "y": {"field": "hi90", "type": "quantitative", "scale": {"domain": [0.132, 0.651], "nice": false, "zero": false},
                     "axis": {"title": "percentage points", "values": [0.2, 0.3, 0.4, 0.5, 0.6], "format": "~g"}},
               "y2": {"field": "lo90"}}},
            {"mark": {"type": "area", "fill": "#0072BD", "fillOpacity": 0.6, "stroke": "#0072BD", "strokeOpacity": 0.4, "strokeWidth": 1, "clip": true},
             "encoding": {"x": {"field": "date", "type": "temporal", "axis": null}, "y": {"field": "hi68", "type": "quantitative", "axis": null}, "y2": {"field": "lo68"}}},
            {"mark": {"type": "line", "color": "black", "strokeWidth": 2.2, "strokeDash": [13, 5, 3, 5], "clip": true},
             "encoding": {"x": {"field": "date", "type": "temporal", "axis": null}, "y": {"field": "median", "type": "quantitative", "axis": null}}},
            {"mark": {"type": "line", "color": "black", "strokeWidth": 2, "clip": true},
             "encoding": {
               "x": {"field": "date", "type": "temporal", "axis": {"orient": "top", "title": null, "values": [{"year": 2016, "utc": true}, {"year": 2017, "utc": true}, {"year": 2018, "utc": true}, {"year": 2019, "utc": true}]}},
               "y": {"field": "actual", "type": "quantitative", "axis": {"orient": "right", "title": null, "values": [0.2, 0.3, 0.4, 0.5, 0.6]}}}}
          ],
          "resolve": {"axis": {"x": "independent", "y": "independent"}}
        },
        {
          "title": "Asset purchases",
          "width": 328, "height": 311,
          "data": {"name": "ap"},
          "layer": [
            {"mark": {"type": "area", "fill": "#0072BD", "fillOpacity": 0.32, "stroke": "#0072BD", "strokeOpacity": 0.3, "strokeWidth": 1, "clip": true},
             "encoding": {
               "x": {"field": "date", "type": "temporal", "scale": {"type": "utc", "domain": [{"year": 2016, "month": 1, "date": 1, "utc": true}, {"year": 2019, "month": 12, "date": 1, "utc": true}]},
                     "axis": {"title": "years", "values": [{"year": 2016, "utc": true}, {"year": 2017, "utc": true}, {"year": 2018, "utc": true}, {"year": 2019, "utc": true}], "labelExpr": "utcFormat(datum.value, '%y')"}},
               "y": {"field": "hi90", "type": "quantitative", "scale": {"domain": [10, 35], "nice": false, "zero": false},
                     "axis": {"title": "percent GDP 2014", "values": [10, 15, 20, 25, 30, 35], "format": "d"}},
               "y2": {"field": "lo90"}}},
            {"mark": {"type": "area", "fill": "#0072BD", "fillOpacity": 0.6, "stroke": "#0072BD", "strokeOpacity": 0.4, "strokeWidth": 1, "clip": true},
             "encoding": {"x": {"field": "date", "type": "temporal", "axis": null}, "y": {"field": "hi68", "type": "quantitative", "axis": null}, "y2": {"field": "lo68"}}},
            {"mark": {"type": "line", "color": "black", "strokeWidth": 2.2, "strokeDash": [13, 5, 3, 5], "clip": true},
             "encoding": {"x": {"field": "date", "type": "temporal", "axis": null}, "y": {"field": "median", "type": "quantitative", "axis": null}}},
            {"mark": {"type": "line", "color": "black", "strokeWidth": 2, "clip": true},
             "encoding": {
               "x": {"field": "date", "type": "temporal", "axis": {"orient": "top", "title": null, "values": [{"year": 2016, "utc": true}, {"year": 2017, "utc": true}, {"year": 2018, "utc": true}, {"year": 2019, "utc": true}]}},
               "y": {"field": "actual", "type": "quantitative", "axis": {"orient": "right", "title": null, "values": [10, 15, 20, 25, 30, 35]}}}}
          ],
          "resolve": {"axis": {"x": "independent", "y": "independent"}}
        },
        {
          "title": " ",
          "width": 283, "height": 127,
          "data": {"values": [
            {"key": "median", "label": "median"},
            {"key": "b90", "label": "90% error bands"},
            {"key": "b68", "label": "68% error bands"},
            {"key": "actual", "label": "Actual series"}
          ]},
          "encoding": {
            "y": {"field": "key", "type": "nominal",
                  "scale": {"type": "band", "domain": ["median", "b90", "b68", "actual"], "paddingInner": 0.26, "paddingOuter": 0.26},
                  "axis": {"labels": false, "ticks": false, "grid": false, "domain": false, "title": null, "minExtent": 58, "maxExtent": 58}}
          },
          "layer": [
            {"transform": [{"filter": "datum.key === 'b90'"}],
             "mark": {"type": "rect", "fill": "#0072BD", "fillOpacity": 0.32, "stroke": "#0072BD", "strokeOpacity": 0.35, "strokeWidth": 1},
             "encoding": {"x": {"datum": 26, "type": "quantitative", "scale": {"domain": [0, 283]}, "axis": null}, "x2": {"datum": 105}}},
            {"transform": [{"filter": "datum.key === 'b68'"}],
             "mark": {"type": "rect", "fill": "#0072BD", "fillOpacity": 0.6, "stroke": "#0072BD", "strokeOpacity": 0.7, "strokeWidth": 1},
             "encoding": {"x": {"datum": 26, "type": "quantitative", "scale": {"domain": [0, 283]}, "axis": null}, "x2": {"datum": 105}}},
            {"transform": [{"filter": "datum.key === 'median'"}],
             "mark": {"type": "rule", "color": "black", "strokeWidth": 2.2, "strokeDash": [13, 5, 3, 5]},
             "encoding": {"x": {"datum": 26, "type": "quantitative", "scale": {"domain": [0, 283]}, "axis": null}, "x2": {"datum": 105}}},
            {"transform": [{"filter": "datum.key === 'actual'"}],
             "mark": {"type": "rule", "color": "black", "strokeWidth": 2},
             "encoding": {"x": {"datum": 26, "type": "quantitative", "scale": {"domain": [0, 283]}, "axis": null}, "x2": {"datum": 105}}},
            {"mark": {"type": "text", "align": "left", "baseline": "middle", "font": "DejaVu Serif", "fontSize": 17, "color": "black"},
             "encoding": {"x": {"datum": 112, "type": "quantitative", "scale": {"domain": [0, 283]}, "axis": null}, "text": {"field": "label"}}}
          ]
        }
      ]
    }
  ],
  "config": {
    "view": {"stroke": "#444444", "strokeWidth": 1.2},
    "title": {"font": "DejaVu Serif", "fontStyle": "italic", "fontWeight": "normal", "fontSize": 20, "anchor": "start", "frame": "group", "offset": 6, "baseline": "alphabetic", "color": "black"},
    "axis": {"labelFont": "Liberation Sans", "labelFontSize": 19, "labelColor": "#262626", "titleFont": "DejaVu Serif", "titleFontSize": 20, "titleFontWeight": "normal", "titleColor": "#262626", "gridColor": "#dedede", "gridWidth": 1, "tickColor": "#444444", "tickSize": -5, "tickWidth": 1, "domain": false, "labelFlush": false},
    "axisLeft": {"minExtent": 36, "maxExtent": 36, "labelPadding": 13, "titlePadding": 10},
    "axisBottom": {"labelPadding": 19, "titlePadding": 8},
    "axisRight": {"labels": false, "grid": false, "minExtent": 0, "maxExtent": 0},
    "axisTop": {"labels": false, "grid": false, "minExtent": 0, "maxExtent": 0}
  }
}
